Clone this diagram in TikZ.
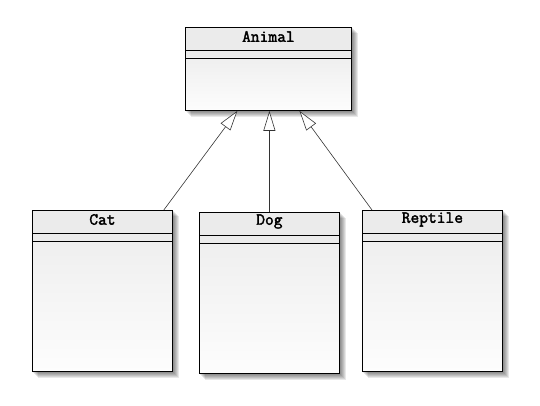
\documentclass[tikz,border=0pt]{standalone}
\usepackage{fontspec}
\newfontfamily\umlfont[AutoFakeBold=2.2]{Latin Modern Mono}
\usetikzlibrary{arrows.meta,calc,backgrounds}
\definecolor{headgray}{HTML}{EBEBEB}
\definecolor{bodytop}{HTML}{EFEFEF}
\definecolor{bodymid}{HTML}{E3E3E3}
\definecolor{bodybot}{HTML}{FDFDFD}
\begin{document}
\begin{tikzpicture}[x=1pt,y=-1pt,
  classbox/.style={draw=black, line width=0.8pt, rectangle, inner sep=0pt, anchor=north west},
  classname/.style={font=\umlfont\bfseries\fontsize{17}{17}\selectfont, inner sep=0pt, anchor=center},
  sepline/.style={draw=black, line width=0.8pt},
  inherit/.style={draw=black!80, line width=0.6pt, -{Triangle[length=20pt,width=12pt,fill=white]}},
  headfill/.style={fill=headgray},
  bodyfill/.style={top color=bodytop, middle color=bodymid, bottom color=bodybot},
  shade1/.style={fill=black, opacity=0.09}
]
\useasboundingbox (0,0) rectangle (540,406);

% class boxes
\node[classbox, minimum width=166pt, minimum height=83pt] (animal) at (185,27) {};
\node[classbox, minimum width=140pt, minimum height=161pt] (cat) at (32,210) {};
\node[classbox, minimum width=140pt, minimum height=161pt] (dog) at (199,212) {};
\node[classbox, minimum width=140pt, minimum height=161pt] (reptile) at (362,210) {};

% names
\node[classname] (animalname) at ($(animal.north)+(0,9.5)$) {Animal};
\node[classname] (catname) at ($(cat.north)+(0,9.5)$) {Cat};
\node[classname] (dogname) at ($(dog.north)+(0,9.5)$) {Dog};
\node[classname] (reptilename) at ($(reptile.north)+(0,9.5)$) {Reptile};

% separators
\foreach \c in {animal,cat,dog,reptile}{
  \draw[sepline] ($(\c.north west)+(0,23)$) -- ($(\c.north east)+(0,23)$);
  \draw[sepline] ($(\c.north west)+(0,31)$) -- ($(\c.north east)+(0,31)$);
}

% fills and shadows
\begin{pgfonlayer}{background}
\foreach \c in {animal,cat,dog,reptile}{
  \foreach \s in {1,2,3,4,5,6}{
    \fill[shade1] ($(\c.north west)+(\s,\s)$) rectangle ($(\c.south east)+(\s,\s)$);
  }
  \fill[white] (\c.north west) rectangle (\c.south east);
  \fill[headfill] (\c.north west) rectangle ($(\c.north east)+(0,23)$);
  \fill[headfill] ($(\c.north west)+(0,23)$) rectangle ($(\c.north east)+(0,31)$);
  \shade[bodyfill] ($(\c.north west)+(0,31)$) rectangle (\c.south east);
}
\end{pgfonlayer}

% inheritance
\draw[inherit] ([xshift=-9pt]cat.north east) -- ([xshift=-31pt]animal.south);
\draw[inherit] (dog.north) -- (dog.north |- animal.south);
\draw[inherit] ([xshift=10pt]reptile.north west) -- ([xshift=31pt]animal.south);
\end{tikzpicture}
\end{document}
